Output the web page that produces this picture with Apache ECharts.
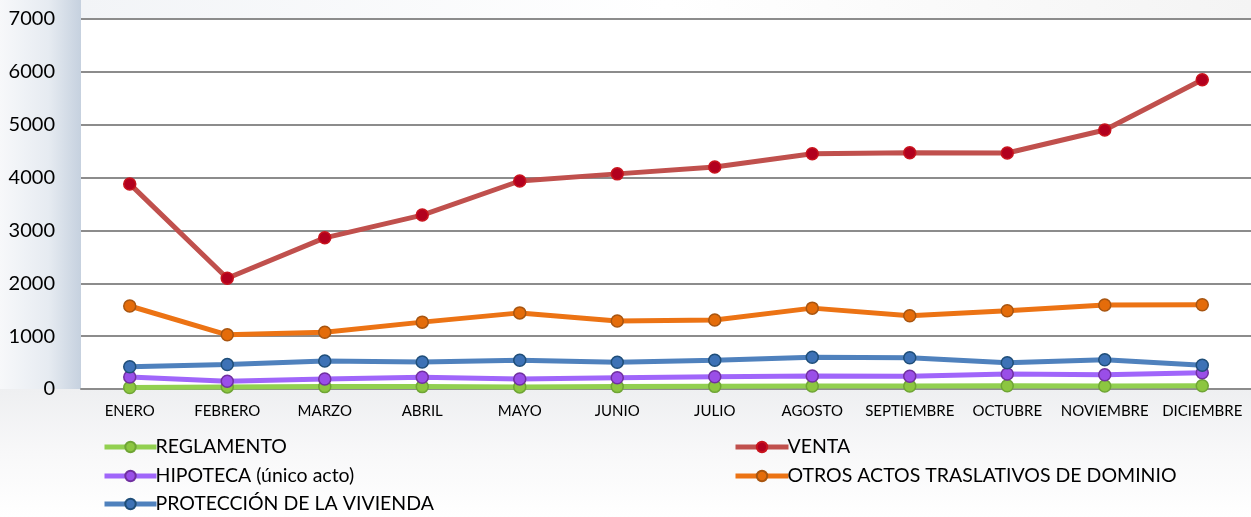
<!DOCTYPE html>
<html><head><meta charset="utf-8">
<script src="https://cdn.jsdelivr.net/npm/echarts@6/dist/echarts.min.js"></script>
<style>html,body{margin:0;padding:0;background:#fff}#c{width:1251px;height:517px}</style>
</head><body><div id="c"></div>
<script>
const months = ['ENERO','FEBRERO','MARZO','ABRIL','MAYO','JUNIO','JULIO','AGOSTO','SEPTIEMBRE','OCTUBRE','NOVIEMBRE','DICIEMBRE'];
const reglamento = [30, 40, 45, 45, 40, 45, 50, 55, 55, 60, 55, 60];
const venta = [3880, 2095, 2860, 3290, 3935, 4070, 4200, 4450, 4470, 4465, 4900, 5850];
const hipoteca = [227, 146, 190, 221, 190, 214, 233, 246, 240, 284, 271, 309];
const otros = [1570, 1025, 1075, 1265, 1440, 1285, 1305, 1530, 1385, 1480, 1590, 1595];
const proteccion = [420, 465, 530, 511, 543, 505, 543, 600, 592, 498, 554, 448];
const yTicks = [0, 7000, 1000];

const FONT = 'Lato, "Open Sans", sans-serif';
function mk(name, data, line, fill, border) {
  return { name, type: 'line', data, symbol: 'circle', symbolSize: 12,
    lineStyle: { width: 5, color: line },
    itemStyle: { color: fill, borderColor: border, borderWidth: 1.5 },
    emphasis: { disabled: true } };
}
function lg(name, left, centerY, w) {
  return { left, top: centerY - 11, padding: 0, itemWidth: w, itemHeight: 13,
    data: [name], selectedMode: false,
    lineStyle: { width: 5 },
    textStyle: { fontFamily: FONT, fontSize: 19.5, lineHeight: 22, color: '#000', padding: [0, 0, 0, -6] } };
}
const chart = echarts.init(document.getElementById('c'));
chart.setOption({
  animation: false,
  backgroundColor: '#ffffff',
  graphic: [
    { type: 'rect', z: -10, shape: { x: 0, y: 0, width: 81, height: 400 },
      style: { fill: new echarts.graphic.LinearGradient(0, 0, 1, 0, [
        { offset: 0, color: '#f7f8fa' }, { offset: 0.6, color: '#e6ebf1' }, { offset: 1, color: '#c6d1df' }]) } },
    { type: 'rect', z: -10, shape: { x: 0, y: 389, width: 1251, height: 128 },
      style: { fill: new echarts.graphic.LinearGradient(0, 0, 0, 1, [
        { offset: 0, color: '#eeeff1' }, { offset: 0.5, color: '#f8f8f9' }, { offset: 1, color: '#ffffff' }]) } },
    { type: 'rect', z: -10, shape: { x: 81, y: 0, width: 1170, height: 19 },
      style: { fill: new echarts.graphic.LinearGradient(0, 0, 1, 0, [
        { offset: 0, color: '#f2f4f7' }, { offset: 0.5, color: '#ffffff' }, { offset: 1, color: '#f4f4f4' }]) } }
  ],
  grid: { left: 81, top: 19, width: 1171, height: 370, show: true, backgroundColor: '#ffffff', borderWidth: 0 },
  legend: [
    lg('REGLAMENTO', 102, 447, 52),
    lg('HIPOTECA (único acto)', 102, 476, 52),
    lg('PROTECCIÓN DE LA VIVIENDA', 102, 504, 52),
    lg('VENTA', 733, 447, 53),
    lg('OTROS ACTOS TRASLATIVOS DE DOMINIO', 733, 476, 53)
  ],
  xAxis: { type: 'category', data: months, boundaryGap: true,
    axisLine: { lineStyle: { color: '#8c8c8c', width: 2 } }, axisTick: { show: false },
    axisLabel: { fontFamily: FONT, fontSize: 15, color: '#000', margin: 15, interval: 0 } },
  yAxis: { type: 'value', min: yTicks[0], max: yTicks[1], interval: yTicks[2],
    axisLine: { show: false }, axisTick: { show: false },
    axisLabel: { fontFamily: FONT, fontSize: 20, color: '#000', margin: 26, formatter: v => String(v) },
    splitLine: { lineStyle: { color: '#8c8c8c', width: 2 } } },
  series: [
    mk('REGLAMENTO', reglamento, '#92d050', '#8cc640', '#6fa535'),
    mk('VENTA', venta, '#c0504d', '#b2001e', '#c8141e'),
    mk('HIPOTECA (único acto)', hipoteca, '#a066fa', '#9a4ee8', '#7030a0'),
    mk('OTROS ACTOS TRASLATIVOS DE DOMINIO', otros, '#ec7314', '#e46c0a', '#a85510'),
    mk('PROTECCIÓN DE LA VIVIENDA', proteccion, '#4f81bd', '#3d72b6', '#1f4e79')
  ]
});
</script></body></html>
